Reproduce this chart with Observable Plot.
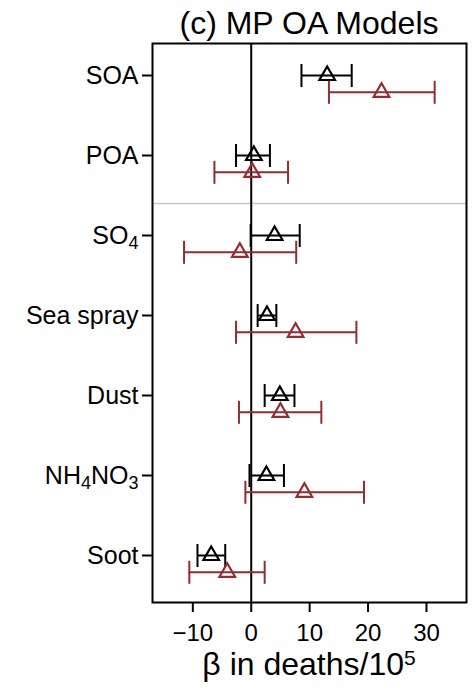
<!DOCTYPE html>
<html>
<head>
<meta charset="utf-8">
<script src="https://cdn.jsdelivr.net/npm/d3@7"></script>
<script src="https://cdn.jsdelivr.net/npm/@observablehq/plot@0.6"></script>
<style>
  html, body { margin: 0; padding: 0; background: #ffffff; }
  #chart svg { display: block; }
</style>
</head>
<body>
<div id="chart"></div>
<script>
// ---------- data ----------
const title = "(c) MP OA Models";
const categories = ["SOA", "POA", "SO4", "Sea spray", "Dust", "NH4NO3", "Soot"];
const xTicks = [-10, 0, 10, 20, 30];
const xLabelMain = "β in deaths/10";
const xLabelSup = "5";

// black series
const blackEst = [13.0, 0.45, 4.0, 2.7, 4.9, 2.6, -6.85];
const blackLo  = [8.6, -2.6, -0.1, 1.1, 2.3, -0.3, -9.2];
const blackHi  = [17.2, 3.2, 8.3, 4.3, 7.4, 5.6, -4.45];

// red series
const redEst = [22.3, 0.17, -1.95, 7.6, 5.0, 9.1, -4.1];
const redLo  = [13.3, -6.3, -11.5, -2.6, -2.1, -1.0, -10.6];
const redHi  = [31.4, 6.3, 7.7, 18.0, 12.0, 19.3, 2.3];

// ---------- build ----------
const rows = (est, lo, hi, series) =>
  categories.map((c, i) => ({cat: c, est: est[i], lo: lo[i], hi: hi[i], series}));
const blackRows = rows(blackEst, blackLo, blackHi, "black");
const redRows = rows(redEst, redLo, redHi, "red");

const RED = "#952b31";
const FONT = "'Liberation Sans', Arial, Helvetica, sans-serif";
const W = 474, H = 692;

// vertical whisker-cap symbol
const capSymbol = {
  draw(ctx) { ctx.moveTo(0, -11.5); ctx.lineTo(0, 11.5); }
};

function errorMarks(data, color, dy) {
  const cap = {y: "cat", symbol: capSymbol, r: 5, stroke: color, strokeWidth: 2, fill: "none", dy};
  return [
    Plot.ruleY(data, {y: "cat", x1: "lo", x2: "hi", stroke: color, strokeWidth: 2, dy}),
    Plot.dot(data, {x: "lo", ...cap}),
    Plot.dot(data, {x: "hi", ...cap}),
    Plot.dot(data, {x: "est", y: "cat", symbol: "triangle", r: 5.8, stroke: color,
                    strokeWidth: 2.2, fill: "none", dy})
  ];
}

const plot = Plot.plot({
  width: W,
  height: H,
  marginLeft: 152,
  marginRight: 8,
  marginTop: 43,
  marginBottom: 90,
  style: {fontFamily: FONT, fontSize: "24px", color: "black", background: "white"},
  x: {domain: [-16.9, 36.85], ticks: xTicks, tickSize: 10, tickPadding: 11, label: null},
  y: {type: "point", domain: categories, range: [72, 557], padding: 0,
      tickSize: 10, tickPadding: 4, label: null},
  marks: [
    Plot.ruleY(["POA"], {dy: 48, stroke: "#c8c8c8", strokeWidth: 1.6}),
    Plot.ruleX([0], {stroke: "black", strokeWidth: 2}),
    ...errorMarks(blackRows, "black", 0),
    ...errorMarks(redRows, RED, 16.8),
    Plot.frame({stroke: "black", strokeWidth: 2})
  ]
});

document.getElementById("chart").appendChild(plot);

const svg = d3.select(plot);
// thicker axis ticks
svg.selectAll("[aria-label*='tick'] path, [aria-label*='axis'] line, g.tick line")
  .attr("stroke-width", 2);
// slightly larger category labels
svg.selectAll("g[aria-label^='y-axis']").attr("font-size", 25);

// chemical subscripts in y tick labels
svg.selectAll("text").each(function () {
  const t = d3.select(this);
  if (this.childElementCount > 0) return;
  const s = this.textContent;
  if (!categories.includes(s) || !/\d/.test(s)) return;
  const parts = s.match(/[^\d]+|\d+/g);
  t.text(null);
  let shifted = false;
  for (const p of parts) {
    const isDigit = /^\d+$/.test(p);
    const ts = t.append("tspan").text(p);
    if (isDigit) { ts.attr("font-size", 18).attr("dy", shifted ? 0 : 5); shifted = true; }
    else if (shifted) { ts.attr("dy", -5); shifted = false; }
  }
});

// title and x label, placed using the plot's x scale
const xs = plot.scale("x");
const cx = (xs.range[0] + xs.range[1]) / 2;
svg.append("text")
  .attr("x", cx).attr("y", 34)
  .attr("text-anchor", "middle")
  .attr("font-family", FONT).attr("font-size", 32).attr("fill", "black")
  .text(title);
const xl = svg.append("text")
  .attr("x", cx).attr("y", 675)
  .attr("text-anchor", "middle")
  .attr("font-family", FONT).attr("font-size", 32).attr("fill", "black");
xl.append("tspan").text(xLabelMain);
xl.append("tspan").attr("font-size", 21).attr("dy", -10).text(xLabelSup);
</script>
</body>
</html>
